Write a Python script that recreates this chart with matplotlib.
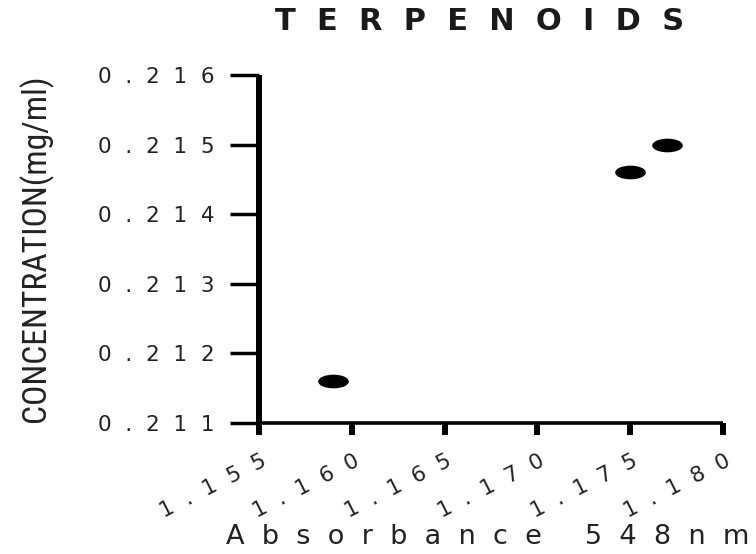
import matplotlib
matplotlib.use("Agg")
import matplotlib.pyplot as plt
from matplotlib import font_manager
from matplotlib.font_manager import FontProperties
from matplotlib.path import Path
from matplotlib.transforms import Affine2D, ScaledTranslation

# Measured samples
absorbance = [1.159, 1.175, 1.177]
concentration = [0.2116, 0.2146, 0.2150]

x_ticks = [1.155, 1.160, 1.165, 1.170, 1.175, 1.180]
y_ticks = [0.211, 0.212, 0.213, 0.214, 0.215, 0.216]

title_text = "TERPENOIDS"
x_label_text = "Absorbance 548nm"
y_label_text = "CONCENTRATION(mg/ml)"


def spread(text, gap):
    """Letter-space a string by putting `gap` between characters."""
    return gap.join(text)


def condensed_font():
    """Pick a narrow sans face if one is installed."""
    prefs = ["Roboto Condensed", "Liberation Sans Narrow", "DejaVu Sans",
             "Open Sans Condensed", "Noto Sans"]
    found = {}
    for f in font_manager.fontManager.ttflist:
        narrow = (f.stretch in ("condensed", "semi-condensed", "extra-condensed")
                  or "Narrow" in f.name or "Condensed" in f.name)
        if narrow and f.style == "normal" and f.weight in (400, "normal", "regular"):
            found.setdefault(f.name, f.fname)
    for p in prefs:
        if p in found:
            return FontProperties(fname=found[p])
    return FontProperties(family="DejaVu Sans")


plt.rcParams["font.family"] = ["DejaVu Sans"]

fig = plt.figure(figsize=(7.56, 5.54), dpi=100)
ax = fig.add_axes([259 / 756, 1 - 423 / 554, (723 - 259) / 756, (423 - 75) / 554])

# wide, flat dot marker
dot = Path.unit_circle().transformed(Affine2D().scale(1.0, 0.42))
ax.plot(absorbance, concentration, ls="none", marker=dot, markersize=21,
        color="black", clip_on=False)

ax.set_xlim(x_ticks[0], x_ticks[-1])
ax.set_ylim(y_ticks[0], y_ticks[-1])

for side in ("top", "right"):
    ax.spines[side].set_visible(False)
ax.spines["left"].set_linewidth(4.3)
ax.spines["bottom"].set_linewidth(2.6)
ax.spines["left"].set_capstyle("butt")
ax.spines["bottom"].set_capstyle("butt")

ax.set_xticks(x_ticks)
ax.set_yticks(y_ticks)
ax.set_xticklabels([spread(f"{v:.3f}", "  ") for v in x_ticks])
ax.set_yticklabels([spread(f"{v:.3f}", "  ") for v in y_ticks])

ax.tick_params(axis="y", length=21, width=2.5, pad=11, labelsize=15.5,
               labelcolor="#222222", direction="out")
ax.tick_params(axis="x", length=8.6, width=4.3, pad=18, labelsize=15.5,
               labelcolor="#222222", direction="out")

shift = ScaledTranslation(6 / 100, 0, fig.dpi_scale_trans)
for lbl in ax.get_xticklabels():
    lbl.set_rotation(27)
    lbl.set_ha("right")
    lbl.set_va("center")
    lbl.set_rotation_mode("anchor")
    lbl.set_transform(lbl.get_transform() + shift)

ax.set_xlabel(spread(x_label_text, "  "), fontsize=19.5, color="#222222")
ax.xaxis.label.set_va("center")
ax.xaxis.set_label_coords(0.4935, -0.3276)

# vertical label fitted to run from the top tick to the bottom tick
yfont = condensed_font()
yfont.set_size(20)
ax.set_ylabel(y_label_text, fontproperties=yfont, color="#222222")
ax.yaxis.label.set_va("center")
ax.yaxis.set_label_coords(-0.4806, 0.503)
renderer = fig.canvas.get_renderer()
span = ax.yaxis.label.get_window_extent(renderer).height
ax.yaxis.label.set_fontsize(20 * 347 / span)

ax.set_title(spread(title_text, "  "), fontsize=22, fontweight="bold",
             color="#1a1a1a", x=0.476, y=1.155, va="center", pad=0)

fig.savefig("out.png", dpi=100)
